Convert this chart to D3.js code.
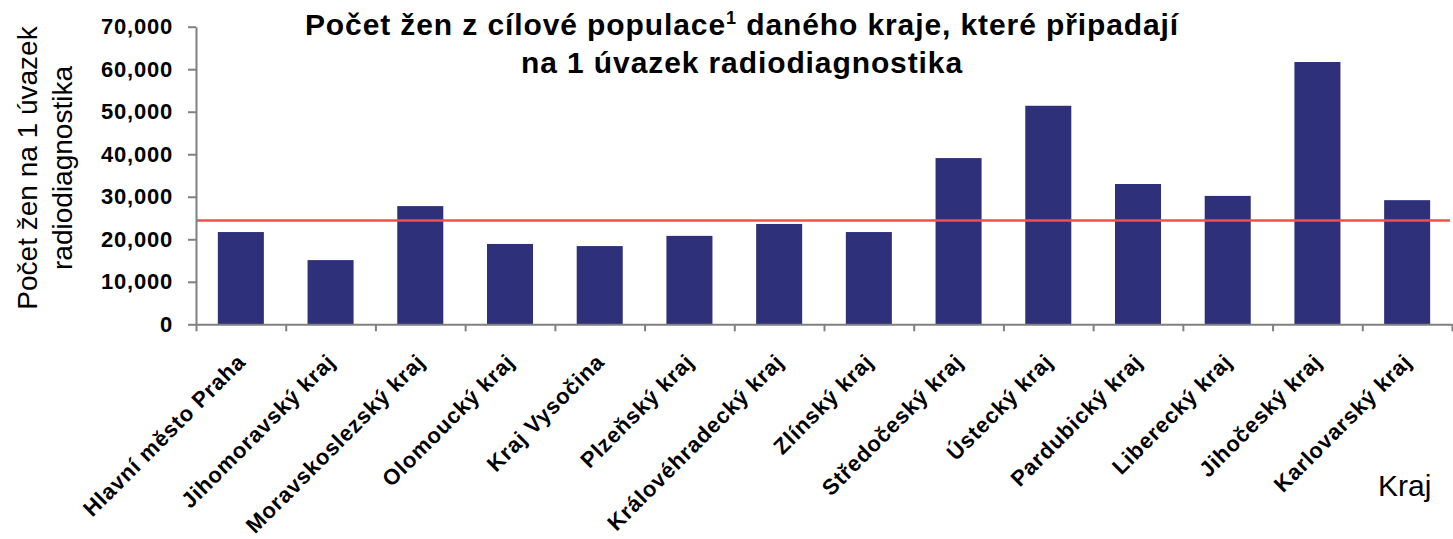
<!DOCTYPE html>
<html>
<head>
<meta charset="utf-8">
<script src="https://cdn.jsdelivr.net/npm/d3@7"></script>
<style>
  html, body { margin: 0; padding: 0; background: #ffffff; }
  svg { display: block; font-family: "Liberation Sans", Arial, sans-serif; }
</style>
</head>
<body>
<svg id="chart" width="1453" height="539"></svg>
<script>
const categories = ["Hlavní město Praha", "Jihomoravský kraj", "Moravskoslezský kraj", "Olomoucký kraj",
  "Kraj Vysočina", "Plzeňský kraj", "Královéhradecký kraj", "Zlínský kraj", "Středočeský kraj",
  "Ústecký kraj", "Pardubický kraj", "Liberecký kraj", "Jihočeský kraj", "Karlovarský kraj"];
const values = [21700, 15100, 27800, 18900, 18400, 20800, 23600, 21700, 39100, 51400, 33000, 30200, 61700, 29200];
const averageValue = 24400;
const yTickValues = [0, 10000, 20000, 30000, 40000, 50000, 60000, 70000];
const titleLine1 = "Počet žen z cílové populace";
const titleSup = "1";
const titleLine1b = " daného kraje, které připadají";
const titleLine2 = "na 1 úvazek radiodiagnostika";
const yTitleLines = ["Počet žen na 1 úvazek", "radiodiagnostika"];
const xTitle = "Kraj";

(function () {
const svg = d3.select("#chart");
const pLeft = 196, pRight = 1452, pTop = 26.7, pBottom = 324.3;
const axisColor = "#808080";

const x = d3.scaleBand().domain(categories).range([pLeft, pRight]).paddingInner(0.487).paddingOuter(0.2435);
const xb = d3.scaleLinear().domain([0, categories.length]).range([pLeft, pRight]);
const y = d3.scaleLinear().domain([0, 70000]).range([pBottom, pTop]);

// bars
svg.append("g").selectAll("rect").data(values).join("rect")
  .attr("x", (d, i) => x(categories[i]))
  .attr("y", d => y(d))
  .attr("width", x.bandwidth())
  .attr("height", d => y(0) - y(d))
  .attr("fill", "#2E3179");

// average line
svg.append("line")
  .attr("x1", xb(0)).attr("x2", xb(categories.length) - 2)
  .attr("y1", y(averageValue)).attr("y2", y(averageValue))
  .attr("stroke", "#F24E4E").attr("stroke-width", 2.5);

// y axis
const yAxis = svg.append("g").attr("transform", `translate(${pLeft},0)`)
  .call(d3.axisLeft(y).tickValues(yTickValues).tickFormat(d3.format(",")).tickSize(8).tickSizeOuter(0).tickPadding(15));
yAxis.select(".domain").attr("stroke", axisColor).attr("stroke-width", 2);
yAxis.selectAll(".tick line").attr("stroke", axisColor).attr("stroke-width", 2);
yAxis.selectAll(".tick text")
  .attr("font-size", 22).attr("font-weight", "bold").attr("fill", "#000")
  .style("letter-spacing", "0.8px")
  .attr("font-family", "'Liberation Sans', Arial, sans-serif");

// x axis boundary ticks
const xAxisG = svg.append("g").attr("transform", `translate(0,${pBottom})`)
  .call(d3.axisBottom(xb).tickValues(d3.range(categories.length + 1)).tickFormat("").tickSize(7).tickSizeOuter(0));
xAxisG.select(".domain").attr("stroke", axisColor).attr("stroke-width", 2);
xAxisG.selectAll(".tick line").attr("stroke", axisColor).attr("stroke-width", 2);

// x labels
const xLab = svg.append("g").attr("transform", `translate(0,${pBottom})`)
  .call(d3.axisBottom(x).tickSize(0).tickPadding(0));
xLab.select(".domain").remove();
xLab.selectAll(".tick text")
  .attr("font-size", 22).attr("font-weight", "bold").attr("fill", "#000")
  .attr("font-family", "'Liberation Sans', Arial, sans-serif")
  .style("letter-spacing", "0.8px")
  .attr("text-anchor", "end")
  .attr("dy", null)
  .attr("y", 0)
  .attr("transform", "translate(6,39) rotate(-45)");

// title
const title = svg.append("text")
  .attr("x", 742).attr("y", 35)
  .attr("text-anchor", "middle")
  .attr("font-size", 30).attr("font-weight", "bold")
  .style("letter-spacing", "0.9px");
title.append("tspan").text(titleLine1);
title.append("tspan").attr("font-size", 18).attr("dy", -11).text(titleSup);
title.append("tspan").attr("dy", 11).text(titleLine1b);
svg.append("text")
  .attr("x", 742).attr("y", 72.5)
  .attr("text-anchor", "middle")
  .attr("font-size", 30).attr("font-weight", "bold")
  .style("letter-spacing", "0.9px")
  .text(titleLine2);

// y title
const yt = [37, 72];
yTitleLines.forEach((t, i) => {
  svg.append("text")
    .attr("transform", `translate(${yt[i]},168) rotate(-90)`)
    .attr("text-anchor", "middle")
    .attr("font-size", 28)
    .text(t);
});

// x title
svg.append("text")
  .attr("x", 1378).attr("y", 496)
  .attr("font-size", 30)
  .text(xTitle);
})();
</script>
</body>
</html>
